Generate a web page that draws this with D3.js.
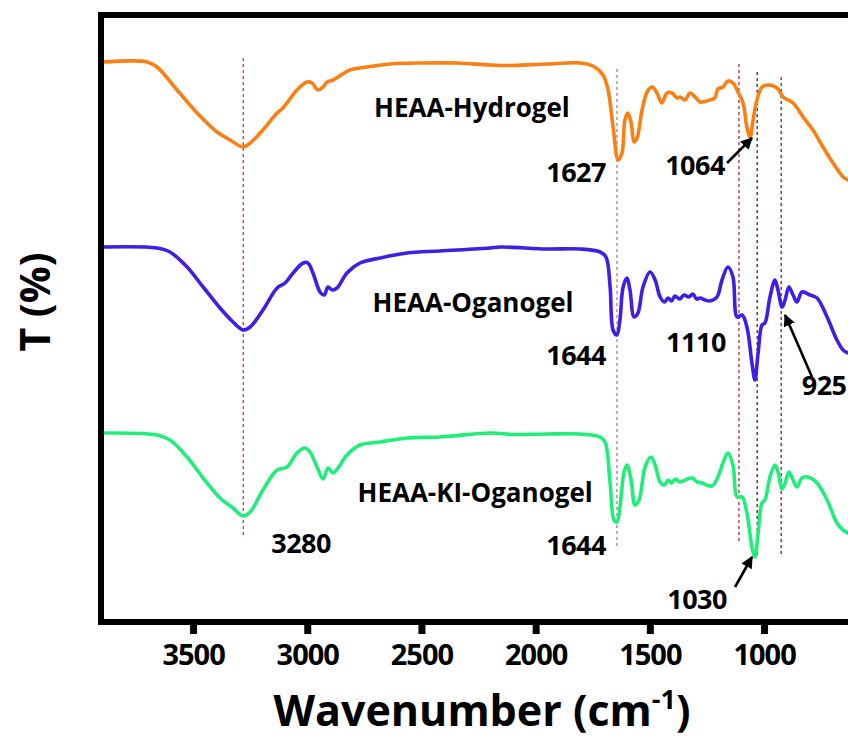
<!DOCTYPE html>
<html>
<head>
<meta charset="utf-8">
<script src="https://cdn.jsdelivr.net/npm/d3@7/dist/d3.min.js"></script>
<style>
  html, body { margin: 0; padding: 0; background: #fff; }
  svg { display: block; }
  text { font-family: "Open Sans", "Liberation Sans", sans-serif; font-weight: 700; fill: #000; }
</style>
</head>
<body>
<svg id="chart" width="848" height="740"></svg>
<script>
// ---------- DATA (wavenumber cm^-1, transmittance in arbitrary stacked units) ----------
const hydrogel = [
  [3898,112],[3701,112],[3658,111],[3570,106.4],[3482,101.8],[3395,98],[3338,96.4],[3281,95],
  [3250,95.8],[3194,98.4],[3132,101.8],[3106,102.8],[3045,106.4],[3001,108],[2979,107.8],
  [2953,106.4],[2931,107],[2913,108],[2887,108.4],[2813,110.4],[2738,111],[2638,111.6],
  [2493,111.8],[2344,111.8],[2200,111.4],[2099,111.3],[1950,111.6],[1806,111.8],[1749,111.2],
  [1705,109.4],[1683,106.4],[1661,99],[1639,92.4],[1622,93.8],[1609,100.4],[1596,101.8],
  [1582,99.8],[1569,96],[1556,96.8],[1534,102.4],[1512,106],[1490,107],[1469,105.8],
  [1447,103.8],[1425,105.8],[1403,105.8],[1381,104.8],[1368,105],[1346,104.4],[1324,105.8],
  [1302,105],[1280,104],[1237,104.4],[1215,104.8],[1202,106.6],[1180,107],[1158,108.2],
  [1136,107.8],[1114,106],[1092,103.8],[1075,99],[1061,97],[1048,100.4],[1031,104.4],
  [1009,107],[983,107.4],[943,106.8],[917,105],[873,103.8],[829,101],[786,98.4],[742,95],
  [698,91.8],[654,89],[632,88.4],[600,88]
];
const organogel = [
  [3894,75],[3658,74.8],[3601,74],[3526,71],[3456,67],[3382,62.8],[3325,60],[3281,58.4],
  [3250,59],[3194,62.4],[3132,66.8],[3097,67.8],[3062,69.8],[3018,71.8],[2997,71.8],
  [2975,69.8],[2944,66],[2926,65.4],[2909,67],[2891,66.4],[2870,66.8],[2826,69.8],
  [2769,71.8],[2681,72.8],[2563,73.8],[2419,74.2],[2200,74.8],[2156,75],[1950,74.6],
  [1806,74.6],[1718,74],[1692,73],[1674,67],[1661,58.4],[1644,57.4],[1631,60.4],[1617,67],
  [1600,68.8],[1587,66.4],[1569,61],[1552,61.8],[1530,67],[1499,70],[1477,68.4],[1455,65],
  [1436,64],[1420,64.8],[1405,64.2],[1390,65.2],[1370,64.6],[1350,65.4],[1330,65],
  [1312,65.6],[1295,64.6],[1280,64.8],[1258,64.4],[1237,64.2],[1206,65],[1184,68.4],
  [1158,71],[1136,69],[1118,61],[1096,61.4],[1075,59],[1053,51.8],[1040,48.4],[1026,53.8],
  [1009,59.4],[996,59.8],[974,65],[952,68.4],[939,66.4],[921,63],[908,64.4],[891,67],
  [873,65.4],[856,64],[834,66],[799,65.4],[768,64.8],[724,61],[681,56.4],[654,54.4],
  [632,53.8],[600,53.4]
];
const kiOrganogel = [
  [3894,37.8],[3658,37.4],[3601,36.4],[3526,33],[3456,28.8],[3382,24.8],[3325,22.8],
  [3281,21.2],[3250,22],[3194,26.4],[3132,30.4],[3088,31],[3045,33.8],[3010,34.8],
  [2988,34],[2957,31],[2931,28.6],[2909,30.8],[2887,29.8],[2865,30.8],[2826,33.4],
  [2769,35.4],[2681,36],[2563,36.8],[2419,37],[2200,37.8],[2099,37.5],[1950,37.6],
  [1806,37.6],[1718,37],[1696,36],[1674,27.8],[1657,20.4],[1644,20],[1631,23],[1613,30],
  [1600,31.4],[1582,28.4],[1565,23.4],[1547,24.4],[1521,31],[1495,33],[1477,31.4],
  [1455,28],[1436,27.4],[1420,28.4],[1405,27.8],[1388,28.6],[1368,28],[1345,28.4],
  [1315,28.8],[1292,28],[1272,27.8],[1228,27.2],[1202,29],
  [1180,31.8],[1158,33.8],[1136,31.4],[1118,25],[1096,25],[1075,21.8],[1053,15],[1040,13],
  [1026,17.8],[1009,23.8],[996,24.4],[974,29],[952,31.4],[939,30],[921,26.6],[908,27.8],
  [891,30],[873,28.4],[856,27],[834,28.8],[808,29],[768,27.8],[724,24.4],[681,19.8],
  [654,18.4],[632,17.8],[600,17.4]
];
const seriesNames = ["HEAA-Hydrogel", "HEAA-Oganogel", "HEAA-KI-Oganogel"];
const seriesColors = ["#fb7f12", "#3d1fe6", "#20ee7a"];
const xTicks = [3500, 3000, 2500, 2000, 1500, 1000];

// reference lines: wavenumber, top value, bottom value
const refLineWn = [3280, 1644, 1110, 1030, 925];
const refLineTop = [112.8, 110.6, 111.6, 110, 109];
const refLineBottom = [17, 14.8, 15.8, 13.4, 13.2];
const refLineColor = ["#d23a3a", "#b98080", "#b82a2a", "#5a1c1c", "#8a1e1e"];

// series name labels [wn, value]
const nameLabelPos = [[2279, 101], [2274, 62], [2265, 24]];
// peak labels
const peakText = ["1627", "1064", "1644", "1110", "925", "3280", "1644", "1030"];
const peakPos = [[1823, 88], [1302, 89.4], [1823, 51.4], [1298, 54], [737, 45.4], [3027, 13.8], [1823, 13.4], [1293, 2.6]];
// arrows [fromWn, fromV, toWn, toV]
const arrows = [[1162, 91.8, 1053, 96.8], [790, 49, 908, 61.4], [1127, 7, 1053, 13]];

// ---------- CHART ----------
const svg = d3.select("#chart");
const W = 848, H = 740;
const mLeft = 101, mTop = 15, mBottom = 622;
const pxPerUnit = 0.2284;
const x = d3.scaleLinear().domain([3903, 400]).range([mLeft, mLeft + 3503 * pxPerUnit]);
const y = d3.scaleLinear().domain([0, 121.4]).range([mBottom, mTop]);

const defs = svg.append("defs");
defs.append("clipPath").attr("id", "clip")
  .append("rect").attr("x", mLeft).attr("y", mTop).attr("width", W - mLeft).attr("height", mBottom - mTop);

defs.append("marker").attr("id", "ah").attr("viewBox", "0 0 10 10")
  .attr("refX", 9).attr("refY", 5).attr("markerWidth", 4.6).attr("markerHeight", 4.6)
  .attr("orient", "auto").attr("markerUnits", "strokeWidth")
  .append("path").attr("d", "M0,0 L10,5 L0,10 z").attr("fill", "#000");

const plot = svg.append("g").attr("clip-path", "url(#clip)");

// dashed reference lines
plot.selectAll("line.ref").data(refLineWn).join("line")
  .attr("class", "ref")
  .attr("x1", d => x(d)).attr("x2", d => x(d))
  .attr("y1", (d, i) => y(refLineTop[i])).attr("y2", (d, i) => y(refLineBottom[i]))
  .attr("stroke", (d, i) => refLineColor[i])
  .attr("stroke-width", 1.3)
  .attr("stroke-dasharray", "3,3");

// spectra
const line = d3.line().x(d => x(d[0])).y(d => y(d[1])).curve(d3.curveCatmullRom.alpha(0.5));
[hydrogel, organogel, kiOrganogel].forEach((s, i) => {
  plot.append("path").datum(s)
    .attr("d", line)
    .attr("fill", "none")
    .attr("stroke", seriesColors[i])
    .attr("stroke-width", 3.6)
    .attr("stroke-linejoin", "round")
    .attr("stroke-linecap", "round");
});

// frame
svg.append("rect")
  .attr("x", mLeft).attr("y", mTop)
  .attr("width", x(400) - mLeft).attr("height", mBottom - mTop)
  .attr("fill", "none").attr("stroke", "#000").attr("stroke-width", 6);

// x axis ticks
const xAxis = d3.axisBottom(x).tickValues(xTicks).tickSize(12).tickPadding(10).tickFormat(d3.format("d"));
const gx = svg.append("g").attr("transform", `translate(0,${mBottom})`).call(xAxis);
gx.select(".domain").remove();
gx.selectAll(".tick line").attr("stroke", "#000").attr("stroke-width", 7);
gx.selectAll(".tick text")
  .attr("font-size", 29)
  .attr("font-family", "'Open Sans', sans-serif")
  .attr("font-weight", 700)
  .attr("fill", "#000")
  .attr("dy", "0.71em")
  .attr("y", 22)
  .style("letter-spacing", "-1px");

// axis titles
const xt = svg.append("text")
  .attr("x", 482).attr("y", 726)
  .attr("text-anchor", "middle")
  .attr("font-size", 43);
xt.append("tspan").text("Wavenumber (cm");
xt.append("tspan").text("-1").attr("font-size", 27).attr("dy", -17);
xt.append("tspan").text(")").attr("dy", 17);

svg.append("text")
  .attr("transform", "translate(50,302) rotate(-90)")
  .attr("text-anchor", "middle")
  .attr("font-size", 41)
  .text("T (%)");

// series name labels
svg.selectAll("text.name").data(seriesNames).join("text")
  .attr("class", "name")
  .attr("x", (d, i) => x(nameLabelPos[i][0]))
  .attr("y", (d, i) => y(nameLabelPos[i][1]))
  .attr("text-anchor", "middle")
  .attr("font-size", 26)
  .text(d => d);

// peak labels
svg.selectAll("text.peak").data(peakText).join("text")
  .attr("class", "peak")
  .attr("x", (d, i) => x(peakPos[i][0]))
  .attr("y", (d, i) => y(peakPos[i][1]))
  .attr("text-anchor", "middle")
  .attr("font-size", 27)
  .style("letter-spacing", "-0.5px")
  .text(d => d);

// arrows
svg.selectAll("line.arrow").data(arrows).join("line")
  .attr("class", "arrow")
  .attr("x1", d => x(d[0])).attr("y1", d => y(d[1]))
  .attr("x2", d => x(d[2])).attr("y2", d => y(d[3]))
  .attr("stroke", "#000").attr("stroke-width", 2.6)
  .attr("marker-end", "url(#ah)");
</script>
</body>
</html>
